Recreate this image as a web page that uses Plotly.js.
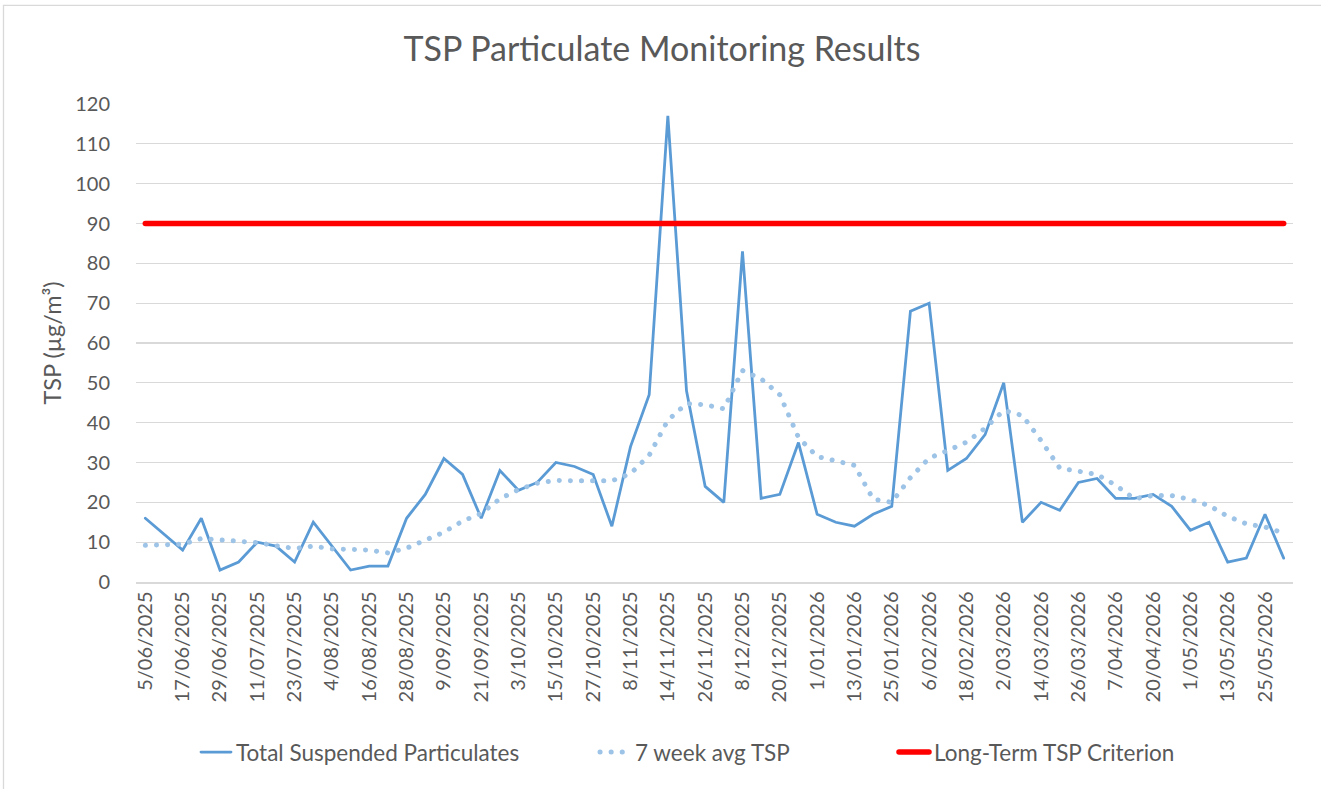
<!DOCTYPE html>
<html>
<head>
<meta charset="utf-8">
<script src="https://cdn.plot.ly/plotly-3.0.1.min.js"></script>
<style>
html,body{margin:0;padding:0;background:#fff;}
#chart{width:1321px;height:789px;}
.scatterlayer .trace path.js-line{stroke-linecap:round;}
.legendlines path{stroke-linecap:round;}
</style>
</head>
<body>
<div id="chart"></div>
<script>
const dates = [
 "5/06/2025","11/06/2025","17/06/2025","23/06/2025","29/06/2025","5/07/2025","11/07/2025","17/07/2025",
 "23/07/2025","29/07/2025","4/08/2025","10/08/2025","16/08/2025","22/08/2025","28/08/2025","3/09/2025",
 "9/09/2025","15/09/2025","21/09/2025","27/09/2025","3/10/2025","9/10/2025","15/10/2025","21/10/2025",
 "27/10/2025","2/11/2025","8/11/2025","11/11/2025","14/11/2025","20/11/2025","26/11/2025","2/12/2025",
 "8/12/2025","14/12/2025","20/12/2025","26/12/2025","1/01/2026","7/01/2026","13/01/2026","19/01/2026",
 "25/01/2026","31/01/2026","6/02/2026","12/02/2026","18/02/2026","24/02/2026","2/03/2026","8/03/2026",
 "14/03/2026","20/03/2026","26/03/2026","1/04/2026","7/04/2026","13/04/2026","20/04/2026","26/04/2026",
 "1/05/2026","7/05/2026","13/05/2026","19/05/2026","25/05/2026","31/05/2026"
];
const tsp = [16,12,8,16,3,5,10,9,5,15,9,3,4,4,16,22,31,27,16,28,23,25,30,29,27,14,34,47,117,48,24,20,
 83,21,22,35,17,15,14,17,19,68,70,28,31,37,50,15,20,18,25,26,21,21,22,19,13,15,5,6,17,6];
const avg7 = [9.2,9.5,9.5,10.9,10.5,10.3,9.9,9.1,8.4,9.0,8.3,8.2,8.0,7.3,8.5,10.5,12.5,15.3,17.2,20.9,
 23.2,24.8,25.5,25.4,25.4,25.4,27.2,31.8,40.6,44.8,44.5,43.5,53.1,51.0,47.0,36.3,31.5,30.5,29.3,20.8,
 20.0,26.2,31.1,33.0,35.1,38.6,43.1,41.8,35.5,28.6,27.8,27.0,24.3,20.9,21.7,21.7,20.7,19.2,16.5,14.6,13.8,12.3];
const criterion = dates.map(() => 90);
const tickDates = dates.filter((d, i) => i % 2 === 0);
const yTicks = [0,10,20,30,40,50,60,70,80,90,100,110,120];

const FONT = "Lato, 'Open Sans', sans-serif";
const TXT = "#595959";

const traces = [
 {x: dates, y: tsp, type: "scatter", mode: "lines", name: "Total Suspended Particulates",
  line: {color: "#5B9BD5", width: 2.8}, legend: "legend"},
 {x: dates, y: avg7, type: "scatter", mode: "lines", name: "7 week avg TSP",
  line: {color: "#9DC3E6", width: 5, dash: "0.1px,11px"}, legend: "legend2"},
 {x: dates, y: criterion, type: "scatter", mode: "lines", name: "Long-Term TSP Criterion",
  line: {color: "#FF0000", width: 5.5}, legend: "legend3"}
];

const pxX = p => (p - 136) / 1157;
const pxY = p => (581.7 - p) / 477.7;
const legFont = {family: FONT, size: 22.5, color: TXT};
const mkLeg = x => ({orientation: "h", x: pxX(x), xanchor: "left", y: pxY(752), yanchor: "middle",
   font: legFont, bgcolor: "rgba(0,0,0,0)", itemwidth: 30});

const layout = {
 width: 1321, height: 789,
 margin: {l: 136, r: 28, t: 104, b: 207.3, pad: 0},
 paper_bgcolor: "#fff", plot_bgcolor: "#fff",
 font: {family: FONT, color: TXT, size: 20},
 title: {text: "TSP Particulate Monitoring Results", font: {family: FONT, size: 34, color: TXT},
   x: 662/1321, xanchor: "center", xref: "container", y: 1 - 49/789, yanchor: "middle", yref: "container"},
 xaxis: {type: "category", categoryorder: "array", categoryarray: dates, range: [-0.5, 61.5],
   tickmode: "array", tickvals: tickDates, ticktext: tickDates, tickangle: -90,
   tickfont: {family: FONT, size: 20, color: TXT}, showgrid: false, showline: true,
   linecolor: "#d9d9d9", linewidth: 1.5, ticks: "", ticklen: 0, automargin: false, fixedrange: true},
 yaxis: {range: [0, 120], tickmode: "array", tickvals: yTicks, showgrid: true, gridcolor: "#d9d9d9",
   gridwidth: 1.3, zeroline: false, showline: false, ticks: "outside", ticklen: 21, tickcolor: "rgba(0,0,0,0)",
   tickfont: {family: FONT, size: 20, color: TXT}, automargin: false, fixedrange: true,
   title: {text: "TSP (µg/m³)", font: {family: FONT, size: 23.5, color: TXT}, standoff: 6}},
 showlegend: true,
 legend: mkLeg(196),
 legend2: mkLeg(595),
 legend3: mkLeg(894),
 shapes: [
  {type: "rect", xref: "paper", yref: "paper", x0: pxX(3.5), x1: pxX(1340), y0: pxY(805), y1: pxY(5.5),
   line: {color: "#d9d9d9", width: 1.3}, fillcolor: "rgba(0,0,0,0)", layer: "below"}
 ],
 hovermode: false
};

Plotly.newPlot("chart", traces, layout, {staticPlot: true, displayModeBar: false});
</script>
</body>
</html>
